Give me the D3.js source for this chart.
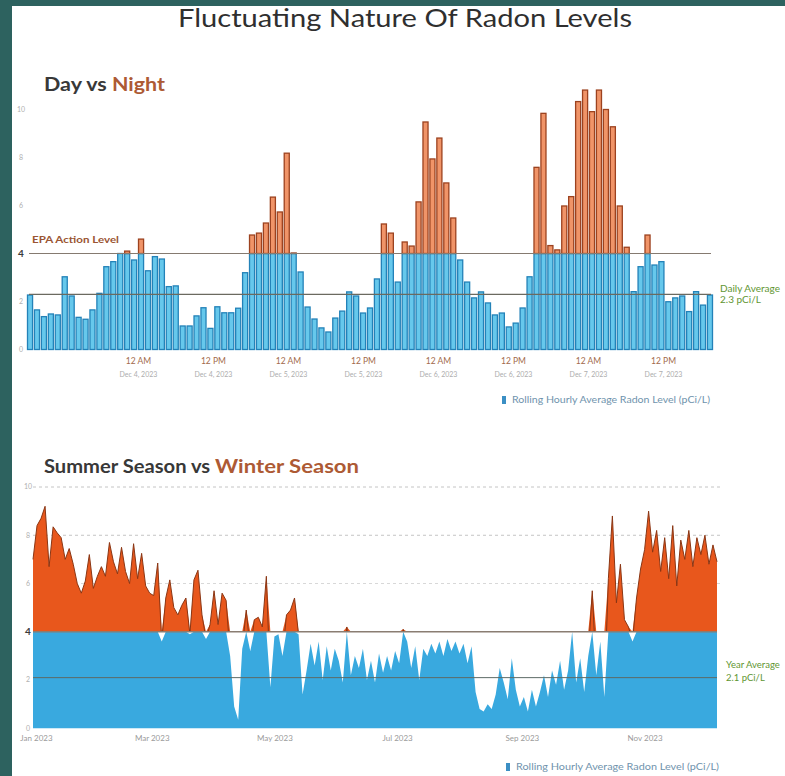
<!DOCTYPE html>
<html>
<head>
<meta charset="utf-8">
<script src="https://cdn.jsdelivr.net/npm/d3@7"></script>
<style>
  html, body { margin: 0; padding: 0; background: #2d625f; }
  svg { display: block; }
  text { font-family: Lato, "Open Sans", sans-serif; }
</style>
</head>
<body>
<svg id="chart" width="785" height="776"></svg>
<script>
// ---- Day vs Night: rolling hourly average readings, Dec 3 – Dec 7, 2023 (pCi/L)
const hourlyValues = [
  2.27,1.65,1.37,1.48,1.44,3.03,2.23,1.34,1.26,1.65,2.34,3.45,3.66,4.0,4.1,3.73,4.6,3.28,3.87,3.77,
  2.62,2.65,0.98,0.98,1.4,1.74,0.88,1.78,1.53,1.53,1.72,3.2,
  4.77,4.85,5.27,6.35,5.73,8.18,4.02,3.23,1.77,1.27,0.9,0.73,1.31,1.6,2.4,2.23,1.52,1.73,
  2.94,5.23,4.85,2.81,4.48,4.31,6.15,9.48,7.94,8.81,6.94,5.48,3.73,2.81,2.15,2.4,1.94,1.44,1.52,0.94,
  1.1,1.73,3.03,7.59,9.84,4.33,4.15,5.98,6.37,10.33,10.81,9.91,10.81,10.0,9.28,5.98,4.26,
  2.41,3.45,4.77,3.52,3.66,1.99,2.15,2.23,1.58,2.41,1.85,2.27
];
const hourlyWindow = ["2023-12-03T06:20", "2023-12-07T19:55"];
const hourlyTicks = ["2023-12-04T00:00","2023-12-04T12:00","2023-12-05T00:00","2023-12-05T12:00",
                     "2023-12-06T00:00","2023-12-06T12:00","2023-12-07T00:00","2023-12-07T12:00"];
const dailyAverage = 2.3;

// ---- Summer vs Winter: readings every second day through 2023 (pCi/L)
const seasonStart = "2023-01-01";
const seasonStepDays = 2;
const seasonValues = [
  7.0,8.4,8.7,9.2,6.7,8.35,8.1,7.9,7.0,7.45,
  6.8,6.0,5.6,6.1,7.2,5.8,6.3,6.7,6.3,7.7,
  6.9,6.4,7.5,6.5,6.0,7.65,6.2,7.25,5.9,5.6,
  5.5,6.85,3.6,5.4,6.15,5.0,4.7,5.1,5.4,3.9,
  6.15,6.55,4.7,3.7,4.3,5.7,4.3,5.6,5.3,3.0,
  0.9,0.35,3.3,4.9,3.2,4.5,4.6,4.2,6.3,1.7,
  3.8,3.9,3.0,4.7,4.9,5.4,3.9,1.4,2.4,3.5,
  2.6,3.6,2.0,3.4,2.4,3.3,2.8,1.9,4.2,2.2,
  3.0,2.5,3.3,2.0,2.8,1.9,3.1,2.3,3.0,2.4,
  3.2,2.7,4.1,3.6,2.5,3.4,2.0,3.3,3.0,3.5,
  3.1,3.6,3.0,3.7,3.2,3.6,3.1,3.5,2.7,3.4,
  1.5,0.8,0.7,1.0,0.8,1.4,2.5,1.9,1.2,2.9,
  1.6,0.9,1.3,0.7,1.6,0.9,1.5,2.2,1.3,2.4,
  1.8,2.8,1.6,2.4,4.0,1.9,2.9,1.5,3.0,5.7,
  2.2,3.6,1.3,6.2,8.8,5.2,6.8,4.5,4.2,3.6,
  5.4,6.6,7.4,9.0,7.3,8.2,6.5,7.9,6.2,8.4,
  5.9,7.8,7.0,8.2,6.7,7.9,7.2,8.0,6.8,7.6,
  6.9
];
const seasonTicks = ["2023-01-01","2023-03-01","2023-05-01","2023-07-01","2023-09-01","2023-11-01"];
const yearAverage = 2.1;

const epaLevel = 4;
const yTicks = [0, 2, 4, 6, 8, 10];

const svg = d3.select("#chart");

// white page panel
svg.append("rect").attr("x", 12).attr("y", 6).attr("width", 773).attr("height", 770).attr("fill", "#ffffff");

svg.append("text")
  .attr("x", 178).attr("y", 27)
  .attr("font-size", 25).attr("fill", "#2f2f2f")
  .attr("textLength", 454).attr("lengthAdjust", "spacingAndGlyphs")
  .text("Fluctuating Nature Of Radon Levels");

function heading(y, plain, strong, totalLen, plainLen) {
  const t = svg.append("text").attr("x", 44).attr("y", y).attr("font-size", 19).attr("font-weight", 700);
  t.append("tspan").attr("fill", "#383838").attr("textLength", plainLen).attr("lengthAdjust", "spacingAndGlyphs").text(plain);
  t.append("tspan").attr("fill", "#ad5a34").attr("textLength", totalLen - plainLen).attr("lengthAdjust", "spacingAndGlyphs").text(strong);
}
heading(91, "Day vs ", "Night", 121, 68);
heading(473, "Summer Season vs ", "Winter Season", 315, 171);

function yLabels(scale, x) {
  const g = svg.append("g");
  g.selectAll("text").data(yTicks).join("text")
    .attr("x", x).attr("y", d => scale(d)).attr("dy", "0.35em")
    .attr("text-anchor", "middle")
    .attr("font-size", d => d === epaLevel ? 10 : 7)
    .attr("font-weight", d => d === epaLevel ? 700 : 400)
    .attr("fill", d => d === epaLevel ? "#3a3a3a" : "#b0b0b0")
    .text(d => d);
}

function legend(x, y, len) {
  svg.append("rect").attr("x", x).attr("y", y - 4).attr("width", 4).attr("height", 8).attr("fill", "#3b8fc4");
  svg.append("text").attr("x", x + 10).attr("y", y).attr("dy", "0.35em")
    .attr("font-size", 8.5).attr("fill", "#6f93ad")
    .attr("textLength", len).attr("lengthAdjust", "spacingAndGlyphs")
    .text("Rolling Hourly Average Radon Level (pCi/L)");
}

// ================= Day vs Night =================
const yTop = d3.scaleLinear().domain([0, 10]).range([349.5, 109.5]);
const xBar = d3.scaleBand().domain(d3.range(hourlyValues.length)).range([27.5, 712.5]).paddingInner(0.27);
const parseT = d3.isoParse;
const xHour = d3.scaleTime().domain(hourlyWindow.map(parseT)).range([27.5, 712.5]);

yLabels(yTop, 21);

const bars = svg.append("g");
bars.selectAll("rect.low").data(hourlyValues).join("rect")
  .attr("class", "low")
  .attr("x", (d, i) => xBar(i)).attr("width", xBar.bandwidth())
  .attr("y", d => yTop(Math.min(d, epaLevel)))
  .attr("height", d => yTop(0) - yTop(Math.min(d, epaLevel)))
  .attr("fill", "#66c8ec").attr("stroke", "#2382b8").attr("stroke-width", 1.3);
bars.selectAll("rect.high").data(hourlyValues.map((v, i) => ({ v, i })).filter(d => d.v > epaLevel)).join("rect")
  .attr("class", "high")
  .attr("x", d => xBar(d.i)).attr("width", xBar.bandwidth())
  .attr("y", d => yTop(d.v))
  .attr("height", d => yTop(epaLevel) - yTop(d.v))
  .attr("fill", "#f09468").attr("stroke", "#9c421f").attr("stroke-width", 1.3);

svg.append("line").attr("x1", 29).attr("x2", 711)
  .attr("y1", yTop(epaLevel)).attr("y2", yTop(epaLevel))
  .attr("stroke", "#857a70").attr("stroke-width", 1.2);
svg.append("line").attr("x1", 29).attr("x2", 711)
  .attr("y1", yTop(dailyAverage)).attr("y2", yTop(dailyAverage))
  .attr("stroke", "#6b6a60").attr("stroke-width", 1.2);

svg.append("text").attr("x", 32).attr("y", yTop(epaLevel) - 11)
  .attr("font-size", 9).attr("font-weight", 700).attr("fill", "#9a5533")
  .attr("textLength", 87).attr("lengthAdjust", "spacingAndGlyphs")
  .text("EPA Action Level");

svg.append("text").attr("x", 720).attr("y", yTop(dailyAverage) - 2)
  .attr("font-size", 10).attr("fill", "#5f9632").text("Daily Average");
svg.append("text").attr("x", 720).attr("y", yTop(dailyAverage) + 9)
  .attr("font-size", 10).attr("fill", "#5f9632").text(`${dailyAverage} pCi/L`);

const fmtClock = d3.timeFormat("%-I %p");
const fmtDay = d3.timeFormat("%b %-d, %Y");
const hourAxis = d3.axisBottom(xHour).tickValues(hourlyTicks.map(parseT)).tickSize(0).tickFormat(fmtClock);
const gHour = svg.append("g").attr("transform", "translate(0,352)").call(hourAxis);
gHour.select(".domain").remove();
gHour.selectAll(".tick text").attr("y", 9).attr("dy", "0.35em")
  .attr("font-size", 8.5).attr("fill", "#a26a4c").attr("font-family", "Lato, sans-serif");
gHour.selectAll(".tick").append("text")
  .attr("y", 23).attr("dy", "0.35em").attr("text-anchor", "middle")
  .attr("font-size", 7).attr("fill", "#adadad").attr("font-family", "Lato, sans-serif")
  .text(d => fmtDay(d));

legend(502, 400, 198);

// ================= Summer vs Winter =================
const yBot = d3.scaleLinear().domain([0, 10]).range([728.3, 487]);
const seasonData = seasonValues.map((v, i) => ({ date: d3.timeDay.offset(parseT(seasonStart), i * seasonStepDays), v }));
const xDay = d3.scaleTime().domain([seasonData[0].date, seasonData[seasonData.length - 1].date]).range([33, 717]);

// dashed guides
svg.append("g").selectAll("line").data([6, 8, 10]).join("line")
  .attr("x1", 33).attr("x2", 720)
  .attr("y1", d => yBot(d)).attr("y2", d => yBot(d))
  .attr("stroke", d => d === 6 ? "#d8d8d8" : "#c4c4c4").attr("stroke-width", 1)
  .attr("stroke-dasharray", "3,3");

yLabels(yBot, 28);

const lowArea = d3.area().x(d => xDay(d.date)).y0(yBot(0)).y1(d => yBot(Math.min(d.v, epaLevel)));
const highArea = d3.area().x(d => xDay(d.date)).y0(yBot(epaLevel)).y1(d => yBot(Math.max(d.v, epaLevel)));
svg.append("path").datum(seasonData).attr("d", lowArea).attr("fill", "#39a9df");
svg.append("path").datum(seasonData).attr("d", highArea).attr("fill", "#e8571c");

// darker outline along the orange crest, kept above the action level
svg.append("clipPath").attr("id", "above-epa")
  .append("rect").attr("x", 0).attr("y", 0).attr("width", 785).attr("height", yBot(epaLevel) - 0.5);
svg.append("path").datum(seasonData)
  .attr("d", d3.line().x(d => xDay(d.date)).y(d => yBot(d.v)))
  .attr("fill", "none").attr("stroke", "#8a3614").attr("stroke-width", 1)
  .attr("clip-path", "url(#above-epa)");

svg.append("line").attr("x1", 33).attr("x2", 717)
  .attr("y1", yBot(epaLevel)).attr("y2", yBot(epaLevel))
  .attr("stroke", "#8a7d72").attr("stroke-width", 1.4);
svg.append("line").attr("x1", 33).attr("x2", 717)
  .attr("y1", yBot(yearAverage)).attr("y2", yBot(yearAverage))
  .attr("stroke", "#5d6b66").attr("stroke-width", 1);

svg.append("text").attr("x", 726).attr("y", yBot(yearAverage) - 10)
  .attr("font-size", 9.5).attr("fill", "#5f9632").text("Year Average");
svg.append("text").attr("x", 726).attr("y", yBot(yearAverage) + 3)
  .attr("font-size", 9.5).attr("fill", "#5f9632").text(`${yearAverage} pCi/L`);

const monthAxis = d3.axisBottom(xDay).tickValues(seasonTicks.map(parseT)).tickSize(0).tickFormat(d3.timeFormat("%b %Y"));
const gMonth = svg.append("g").attr("transform", "translate(0,730)").call(monthAxis);
gMonth.select(".domain").remove();
gMonth.selectAll(".tick text").attr("y", 8).attr("dy", "0.35em")
  .attr("font-size", 8).attr("fill", "#9a9a9a").attr("font-family", "Lato, sans-serif");
gMonth.select(".tick text").attr("dx", 3);

legend(506, 767, 203);
</script>
</body>
</html>
